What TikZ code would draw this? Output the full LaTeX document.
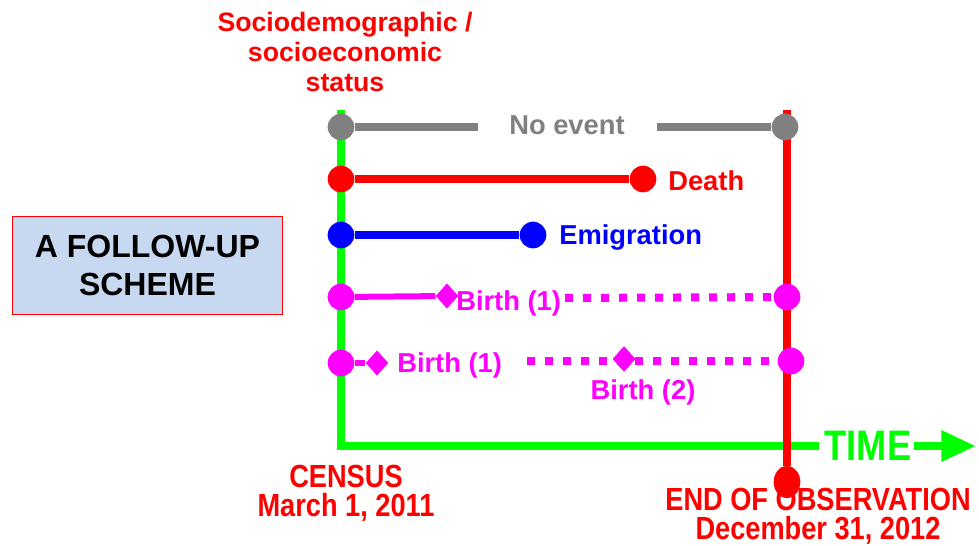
\documentclass[tikz,border=0pt]{standalone}
\usepackage{fontspec}
\setmainfont{Liberation Sans}
\newfontfamily\narrowfont[FakeStretch=0.85]{Liberation Sans}
\usetikzlibrary{shapes.geometric,arrows.meta}
\definecolor{cgreen}{HTML}{00FF00}
\definecolor{cred}{HTML}{FF0000}
\definecolor{cblue}{HTML}{0000FF}
\definecolor{cmag}{HTML}{FF00FF}
\definecolor{cgray}{HTML}{808080}
\definecolor{cbox}{HTML}{C6D9F1}
\begin{document}
\begin{tikzpicture}[x=0.75pt,y=-0.75pt,
  dot/.style={circle,fill=#1,inner sep=0pt,minimum size=20pt},
  dia/.style={diamond,fill=#1,inner sep=0pt,minimum width=17pt,minimum height=19pt},
  lbl/.style={text=#1,font=\fontsize{20.5}{24}\selectfont\bfseries,inner sep=0pt},
  bottomlbl/.style={text=cred,font=\narrowfont\fontsize{24}{22}\selectfont\bfseries,align=center,inner sep=0pt},
  row/.style={line width=5.5pt,#1},
  dotline/.style={line width=6pt,cmag,dash pattern=on 6pt off 7.5pt}
]
\useasboundingbox (0,0) rectangle (979,546);

% axes
\coordinate (gtop) at (341,110);
\coordinate (gcorner) at (341,446);
\node[text=cgreen,font=\narrowfont\fontsize{32}{32}\selectfont\bfseries,inner sep=0pt] (time) at (868,446) {TIME};
\coordinate (tip) at (976,446);
\draw[cgreen,line width=6pt] (gtop) -- (gcorner) -- ([xshift=-4pt]time.west);
\draw[cgreen,line width=6pt,-{Triangle[length=26pt,width=22pt]}] ([xshift=2pt]time.east) -- (tip);

\coordinate (rtop) at (787,110);
\node[ellipse,fill=cred,inner sep=0pt,minimum width=20pt,minimum height=24pt] (rdot) at (787,482) {};
\draw[cred,line width=6pt] (rtop) -- (rdot);

% no event
\node[dot=cgray] (g1) at (341,127) {};
\node[dot=cgray] (g2) at (785,127) {};
\node[lbl=cgray] (noevent) at (567,125) {No event};
\coordinate (ga) at (478,127);
\coordinate (gb) at (657,127);
\draw[row=cgray] (g1) -- (ga);
\draw[row=cgray] (gb) -- (g2);

% death
\node[dot=cred] (d1) at (341,179) {};
\node[dot=cred] (d2) at (643,179) {};
\node[lbl=cred,anchor=west] (death) at (668,181) {Death};
\draw[row=cred] (d1) -- (d2);

% emigration
\node[dot=cblue] (e1) at (341,235) {};
\node[dot=cblue] (e2) at (533,235) {};
\node[lbl=cblue,anchor=west] (emig) at (559,237) {Emigration};
\draw[row=cblue] (e1) -- (e2);

% birth row 1
\node[dot=cmag] (m1) at (341,297) {};
\node[dia=cmag] (md1) at (447,296) {};
\node[dot=cmag] (m2) at (787,297) {};
\node[lbl=cmag,anchor=west] (b1) at (456,303) {Birth (1)};
\coordinate (mda) at (565,298);
\draw[line width=4.5pt,cmag] (m1) -- (md1);
\draw[dotline] (mda) -- (m2);

% birth row 2
\node[dot=cmag] (n1) at (341,363) {};
\node[dia=cmag] (nd1) at (377,363) {};
\node[dot=cmag] (n2) at (791,361) {};
\node[dia=cmag] (nd2) at (624,359) {};
\node[lbl=cmag,anchor=west] (b21) at (397,365) {Birth (1)};
\node[lbl=cmag] (b22) at (643,392) {Birth (2)};
\coordinate (nda) at (527,361);
\draw[line width=4.5pt,cmag] (n1) -- (nd1);
\draw[dotline] (nda) -- (n2);
\node[dia=cmag] at (nd2) {};

% box
\node[draw=cred,fill=cbox,line width=0.75pt,minimum width=203pt,minimum height=73.5pt,
  align=center,font=\fontsize{24}{28.5}\selectfont\bfseries] (box) at (147.5,265) {A FOLLOW-UP\\SCHEME};

% top label
\node[text=cred,align=center,font=\fontsize{20}{22.5}\selectfont\bfseries,inner sep=0pt] (socio) at (345,52)
  {Sociodemographic /\\socioeconomic\\status};

% bottom labels
\node[bottomlbl] (census) at (346,493) {CENSUS\\March 1, 2011};
\node[bottomlbl] (endobs) at (818,516) {END OF OBSERVATION\\December 31, 2012};
\end{tikzpicture}
\end{document}
